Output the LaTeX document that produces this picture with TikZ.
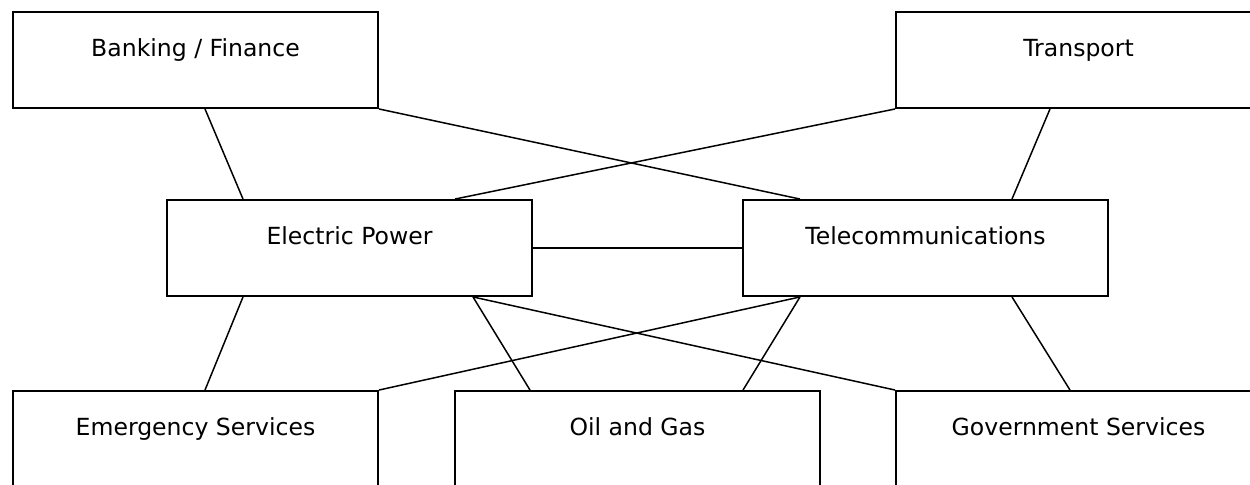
\documentclass[tikz,border=0pt]{standalone}
\usepackage{fontspec}
\setmainfont{DejaVu Sans}
\usetikzlibrary{calc}
\tikzset{
  sector/.style={draw, line width=1.1pt, minimum width=7.3cm, minimum height=1.92cm,
    inner sep=0pt, text height=0.35cm, text depth=0.51cm,
    font=\fontsize{13.4}{15}\selectfont},
  link/.style={line width=0.85pt}
}

\begin{document}
\begin{tikzpicture}[x=0.02cm, y=-0.02cm]
\useasboundingbox (0,0) rectangle (1250,484);
\clip (0,0) rectangle (1250,484);

% top row
\node[sector] (bank) at (195.5, 60) {Banking / Finance};
\node[sector] (trans) at (1078.5, 60) {Transport};

% middle row
\node[sector] (elec) at (349.5, 248) {Electric Power};
\node[sector] (tele) at (925.5, 248) {Telecommunications};

% bottom row
\node[sector] (emer) at (195.5, 439) {Emergency Services};
\node[sector] (oil) at (637.5, 439) {Oil and Gas};
\node[sector] (gov) at (1078.5, 439) {Government Services};

% links top
\draw[link] ($(bank.south)+(9.5,0)$) -- ($(elec.north)+(-106.5,0)$);
\draw[link] (bank.south east) -- ($(tele.north)+(-125.5,0)$);
\draw[link] (trans.south west) -- ($(elec.north)+(105.5,0)$);
\draw[link] ($(trans.south)+(-28.5,0)$) -- ($(tele.north)+(86.5,0)$);

% links middle
\draw[link] (elec.east) -- (tele.west);

% links bottom
\draw[link] ($(elec.south)+(-106.5,0)$) -- ($(emer.north)+(9.5,0)$);
\draw[link] ($(elec.south)+(123.5,0)$) -- ($(oil.north)+(-107.5,0)$);
\draw[link] ($(elec.south)+(123.5,0)$) -- (gov.north west);
\draw[link] ($(tele.south)+(-125.5,0)$) -- (emer.north east);
\draw[link] ($(tele.south)+(-125.5,0)$) -- ($(oil.north)+(105.5,0)$);
\draw[link] ($(tele.south)+(86.5,0)$) -- ($(gov.north)+(-8.5,0)$);

\end{tikzpicture}
\end{document}
